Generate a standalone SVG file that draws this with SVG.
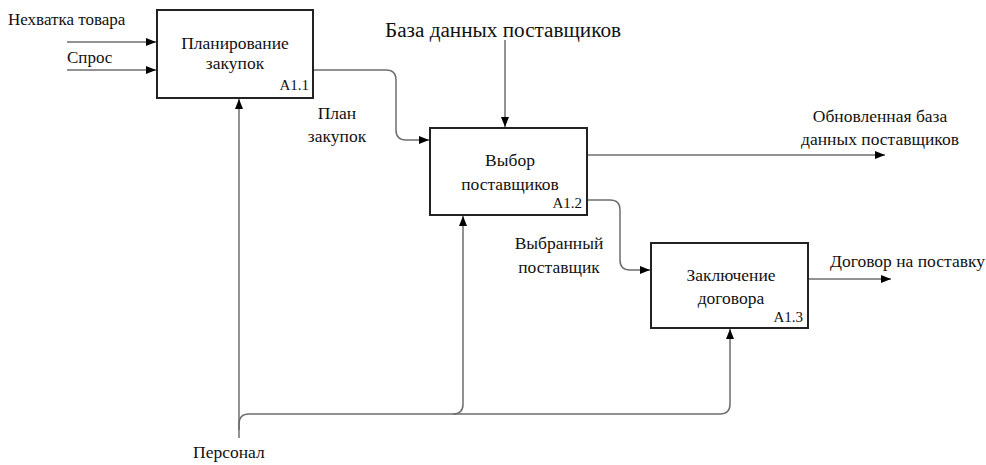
<svg xmlns="http://www.w3.org/2000/svg" width="986" height="465" viewBox="0 0 986 465">
<style>
text{font-family:'Liberation Serif','Times New Roman',serif;font-size:17.5px;fill:#111}
.c{text-anchor:middle}
.r{text-anchor:end;font-size:15px}
.box{fill:#fff;stroke:#222;stroke-width:2}
.ln{fill:none;stroke:#6e6e6e;stroke-width:1.5}
</style>
<defs>
<marker id="ah" viewBox="0 0 10 10" refX="10" refY="5" markerWidth="10" markerHeight="10" markerUnits="userSpaceOnUse" orient="auto">
<path d="M0,1 L10,5 L0,9 Z" fill="#000"/>
</marker>
</defs>
<rect width="986" height="465" fill="#fff"/>
<g id="connectors">
<path class="ln" d="M67,42 H156" marker-end="url(#ah)"/>
<path class="ln" d="M67,70 H156" marker-end="url(#ah)"/>
<path class="ln" d="M313,70 H386 Q396,70 396,80 V130 Q396,140 406,140 H429" marker-end="url(#ah)"/>
<path class="ln" d="M505,40 V127" marker-end="url(#ah)"/>
<path class="ln" d="M587,155 H885" marker-end="url(#ah)"/>
<path class="ln" d="M587,200 H610 Q620,200 620,210 V260 Q620,270 630,270 H650" marker-end="url(#ah)"/>
<path class="ln" d="M808,279 H891" marker-end="url(#ah)"/>
<path class="ln" d="M239,438 V99" marker-end="url(#ah)"/>
<path class="ln" d="M239,430 V424 Q239,414 249,414 H453 Q463,414 463,404 V216" marker-end="url(#ah)"/>
<path class="ln" d="M453,414 H720 Q730,414 730,404 V329" marker-end="url(#ah)"/>
</g>
<g id="A1.1">
<rect class="box" x="157" y="10" width="156" height="88"/>
<text class="c" x="235" y="49">Планирование</text>
<text class="c" x="235" y="69">закупок</text>
<text class="r" x="309" y="90">A1.1</text>
</g>
<g id="A1.2">
<rect class="box" x="430" y="128" width="157" height="87"/>
<text class="c" x="510" y="166">Выбор</text>
<text class="c" x="510" y="190">поставщиков</text>
<text class="r" x="582" y="208">A1.2</text>
</g>
<g id="A1.3">
<rect class="box" x="651" y="243" width="157" height="85"/>
<text class="c" x="731" y="281">Заключение</text>
<text class="c" x="731" y="304">договора</text>
<text class="r" x="803" y="322">A1.3</text>
</g>
<g id="labels">
<text x="8" y="25" style="font-size:17px">Нехватка товара</text>
<text x="67" y="63" style="font-size:17px">Спрос</text>
<text x="385" y="37" style="font-size:20px" textLength="236" lengthAdjust="spacingAndGlyphs">База данных поставщиков</text>
<text class="c" x="337" y="119">План</text>
<text class="c" x="337" y="142">закупок</text>
<text class="c" x="880" y="122">Обновленная база</text>
<text class="c" x="880" y="145">данных поставщиков</text>
<text class="c" x="559" y="249">Выбранный</text>
<text class="c" x="559" y="273">поставщик</text>
<text x="830" y="267">Договор на поставку</text>
<text x="193" y="458">Персонал</text>
</g>
</svg>
